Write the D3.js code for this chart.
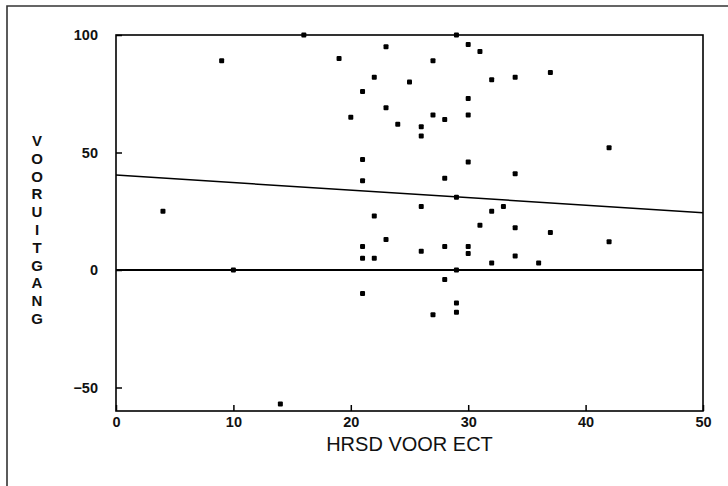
<!DOCTYPE html>
<html>
<head>
<meta charset="utf-8">
<script src="https://cdn.jsdelivr.net/npm/d3@7"></script>
<style>
  html, body { margin: 0; padding: 0; background: #fff; }
  #chart { width: 728px; height: 486px; }
  text { font-family: "Liberation Sans", Arial, sans-serif; fill: #111; }
</style>
</head>
<body>
<div id="chart"></div>
<script>
// HRSD voor ECT (x) and vooruitgang (y)
const hrsd = [4, 9, 10, 14, 16, 19, 20, 21, 21, 21, 21, 21, 21, 22, 22, 22,
  23, 23, 23, 24, 25, 26, 26, 26, 26, 27, 27, 27, 28, 28, 28, 28,
  29, 29, 29, 29, 29, 30, 30, 30, 30, 30, 30, 31, 31, 32, 32, 32,
  33, 34, 34, 34, 34, 36, 37, 37, 42, 42];
const vooruitgang = [25, 89, 0, -57, 100, 90, 65, 76, 47, 38, 10, 5, -10, 82, 23, 5,
  95, 69, 13, 62, 80, 61, 57, 27, 8, 89, 66, -19, 64, 39, 10, -4,
  100, 31, 0, -14, -18, 96, 73, 66, 46, 10, 7, 93, 19, 81, 25, 3,
  27, 82, 41, 18, 6, 3, 84, 16, 52, 12];
// regression line end points
const fitX = [0, 50];
const fitY = [40.4, 24.4];
const xTicks = [0, 10, 20, 30, 40, 50];
const yTicks = [-50, 0, 50, 100];
const xTitle = 'HRSD VOOR ECT';
const yTitle = 'VOORUITGANG';

const width = 728, height = 486;
const margin = {t:35, r:25, b:75, l:116};
const w = width - margin.l - margin.r;
const h = height - margin.t - margin.b;

const svg = d3.select('#chart')
  .append('svg')
  .attr('width', width)
  .attr('height', height);

// outer page frame (top and left edges only)
svg.append('path')
  .attr('d', `M7,${height} L7,6 L${width},6`)
  .style('fill', 'none')
  .style('stroke', '#333')
  .style('stroke-width', 1.6);

const plot = svg.append('g')
  .attr('transform', `translate(${margin.l},${margin.t})`);

const scaleX = d3.scaleLinear().domain([0, 50]).range([0, w]);
const scaleY = d3.scaleLinear().domain([-60, 100]).range([h, 0]);

const points = hrsd.map((d, i) => ({x: d, y: vooruitgang[i]}));

// zero line
plot.append('line')
  .attr('x1', scaleX(0)).attr('x2', scaleX(50))
  .attr('y1', scaleY(0)).attr('y2', scaleY(0))
  .style('stroke', '#000')
  .style('stroke-width', 2);

// regression line
const line = d3.line().x(d => scaleX(d[0])).y(d => scaleY(d[1]));
plot.append('path')
  .datum(fitX.map((d, i) => [d, fitY[i]]))
  .attr('d', line)
  .style('fill', 'none')
  .style('stroke', '#000')
  .style('stroke-width', 1.5);

// frame
plot.append('rect')
  .attr('x', 0).attr('y', 0)
  .attr('width', w).attr('height', h)
  .style('fill', 'none')
  .style('stroke', '#000')
  .style('stroke-width', 1.6);

// axes, ticks pointing inward
const axisX = d3.axisBottom(scaleX)
  .tickValues(xTicks)
  .tickSize(-6)
  .tickPadding(6);
const axisY = d3.axisLeft(scaleY)
  .tickValues(yTicks)
  .tickSize(-6)
  .tickPadding(18);

const axisXNode = plot.append('g')
  .attr('class', 'axis-x')
  .attr('transform', `translate(0,${h})`)
  .call(axisX);
const axisYNode = plot.append('g')
  .attr('class', 'axis-y')
  .call(axisY);

[axisXNode, axisYNode].forEach(g => {
  g.select('.domain').remove();
  g.selectAll('line').style('stroke', '#000').style('stroke-width', 1.5);
  g.selectAll('text')
    .style('font-family', '"Liberation Sans", Arial, sans-serif')
    .style('font-size', '14.5px')
    .style('font-weight', 'bold')
    .style('fill', '#111');
});

// points
plot.selectAll('.dot')
  .data(points)
  .enter()
  .append('rect')
  .attr('class', 'dot')
  .attr('x', d => scaleX(d.x) - 2.5)
  .attr('y', d => scaleY(d.y) - 2.5)
  .attr('width', 5)
  .attr('height', 5)
  .attr('rx', 1)
  .style('fill', '#000');

// x title
svg.append('text')
  .attr('x', margin.l + w / 2)
  .attr('y', 451)
  .attr('text-anchor', 'middle')
  .style('font-size', '20px')
  .text(xTitle);

// y title, letters stacked
svg.append('g')
  .selectAll('text')
  .data(yTitle.split(''))
  .enter()
  .append('text')
  .attr('x', 37)
  .attr('y', (d, i) => 146 + i * 17.8)
  .attr('text-anchor', 'middle')
  .style('font-size', '15px')
  .style('font-weight', 'bold')
  .text(d => d);
</script>
</body>
</html>
